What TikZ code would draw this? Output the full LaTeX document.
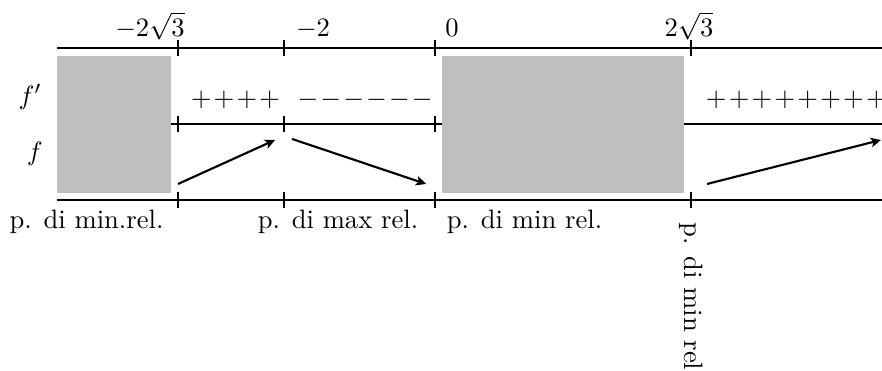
\documentclass[tikz,border=0pt]{standalone}
\usetikzlibrary{arrows.meta}
\newcommand{\pl}{{+}\mkern1.5mu}
\newcommand{\mn}{{-}\mkern1.5mu}
\begin{document}
\begin{tikzpicture}[
    axisline/.style={thick},
    toplabel/.style={anchor=base, inner sep=0pt},
    trend/.style={-{Stealth[length=3.8pt, width=3.6pt, inset=0.9pt]}, thick}
  ]
  \useasboundingbox (0,0) rectangle (11.654,4.902);

  % Draw the three lines
  \foreach \y/\n in {4.268/top, 3.264/mid, 2.260/bot}
    \draw[axisline] (0.753,\y) coordinate (\n L) -- (11.654,\y) coordinate (\n R);

  % Tick marks
  \foreach \x in {2.352,3.753,5.748,9.131} {
    \draw[thick] (\x,4.373) -- (\x,4.163);
    \draw[thick] (\x,2.365) -- (\x,2.155);
  }
  \foreach \x in {2.352,3.753,5.748}
    \draw[thick] (\x,3.369) -- (\x,3.159);

  % Excluded intervals
  \fill[gray!50] (0.753,2.352) rectangle (2.260,4.162);
  \fill[gray!50] (5.840,2.352) rectangle (9.038,4.162);

  % Labels on top
  \node[toplabel] (xa) at (1.982,4.42) {$-2\sqrt{3}$};
  \node[toplabel] (xb) at (4.136,4.42) {$-2$};
  \node[toplabel] (xc) at (5.973,4.42) {$0$};
  \node[toplabel] (xd) at (9.104,4.42) {$2\sqrt{3}$};

  % Row names
  \node (fp) at (0.40,3.62) {$f'$};
  \node (f) at (0.46,2.87) {$f$};

  % Signs of f'
  \node[anchor=west, inner sep=0pt] (s1) at (2.515,3.58) {$\pl\pl\pl{+}$};
  \node[anchor=west, inner sep=0pt] (s2) at (3.925,3.58) {$\mn\mn\mn\mn\mn{-}$};
  \node[anchor=west, inner sep=0pt] (s3) at (9.32,3.58) {$\pl\pl\pl\pl\pl\pl\pl{+}$};

  % Arrows for f
  \coordinate (a1) at (2.352,2.471);
  \coordinate (a2) at (3.634,3.052);
  \coordinate (b1) at (3.858,3.066);
  \coordinate (b2) at (5.630,2.471);
  \coordinate (c1) at (9.342,2.471);
  \coordinate (c2) at (11.64,3.052);
  \draw[trend] (a1) -- (a2);
  \draw[trend] (b1) -- (b2);
  \draw[trend] (c1) -- (c2);

  % Labels below
  \node[anchor=base] (p1) at (1.143,1.876) {p. di min.rel.};
  \node[anchor=base] (p2) at (4.466,1.876) {p. di max rel.};
  \node[anchor=base] (p3) at (6.931,1.876) {p. di min rel.};
  \node[rotate=-90, anchor=west, inner sep=0pt] (p4) at (9.131,1.969) {p. di min rel};
\end{tikzpicture}
\end{document}
